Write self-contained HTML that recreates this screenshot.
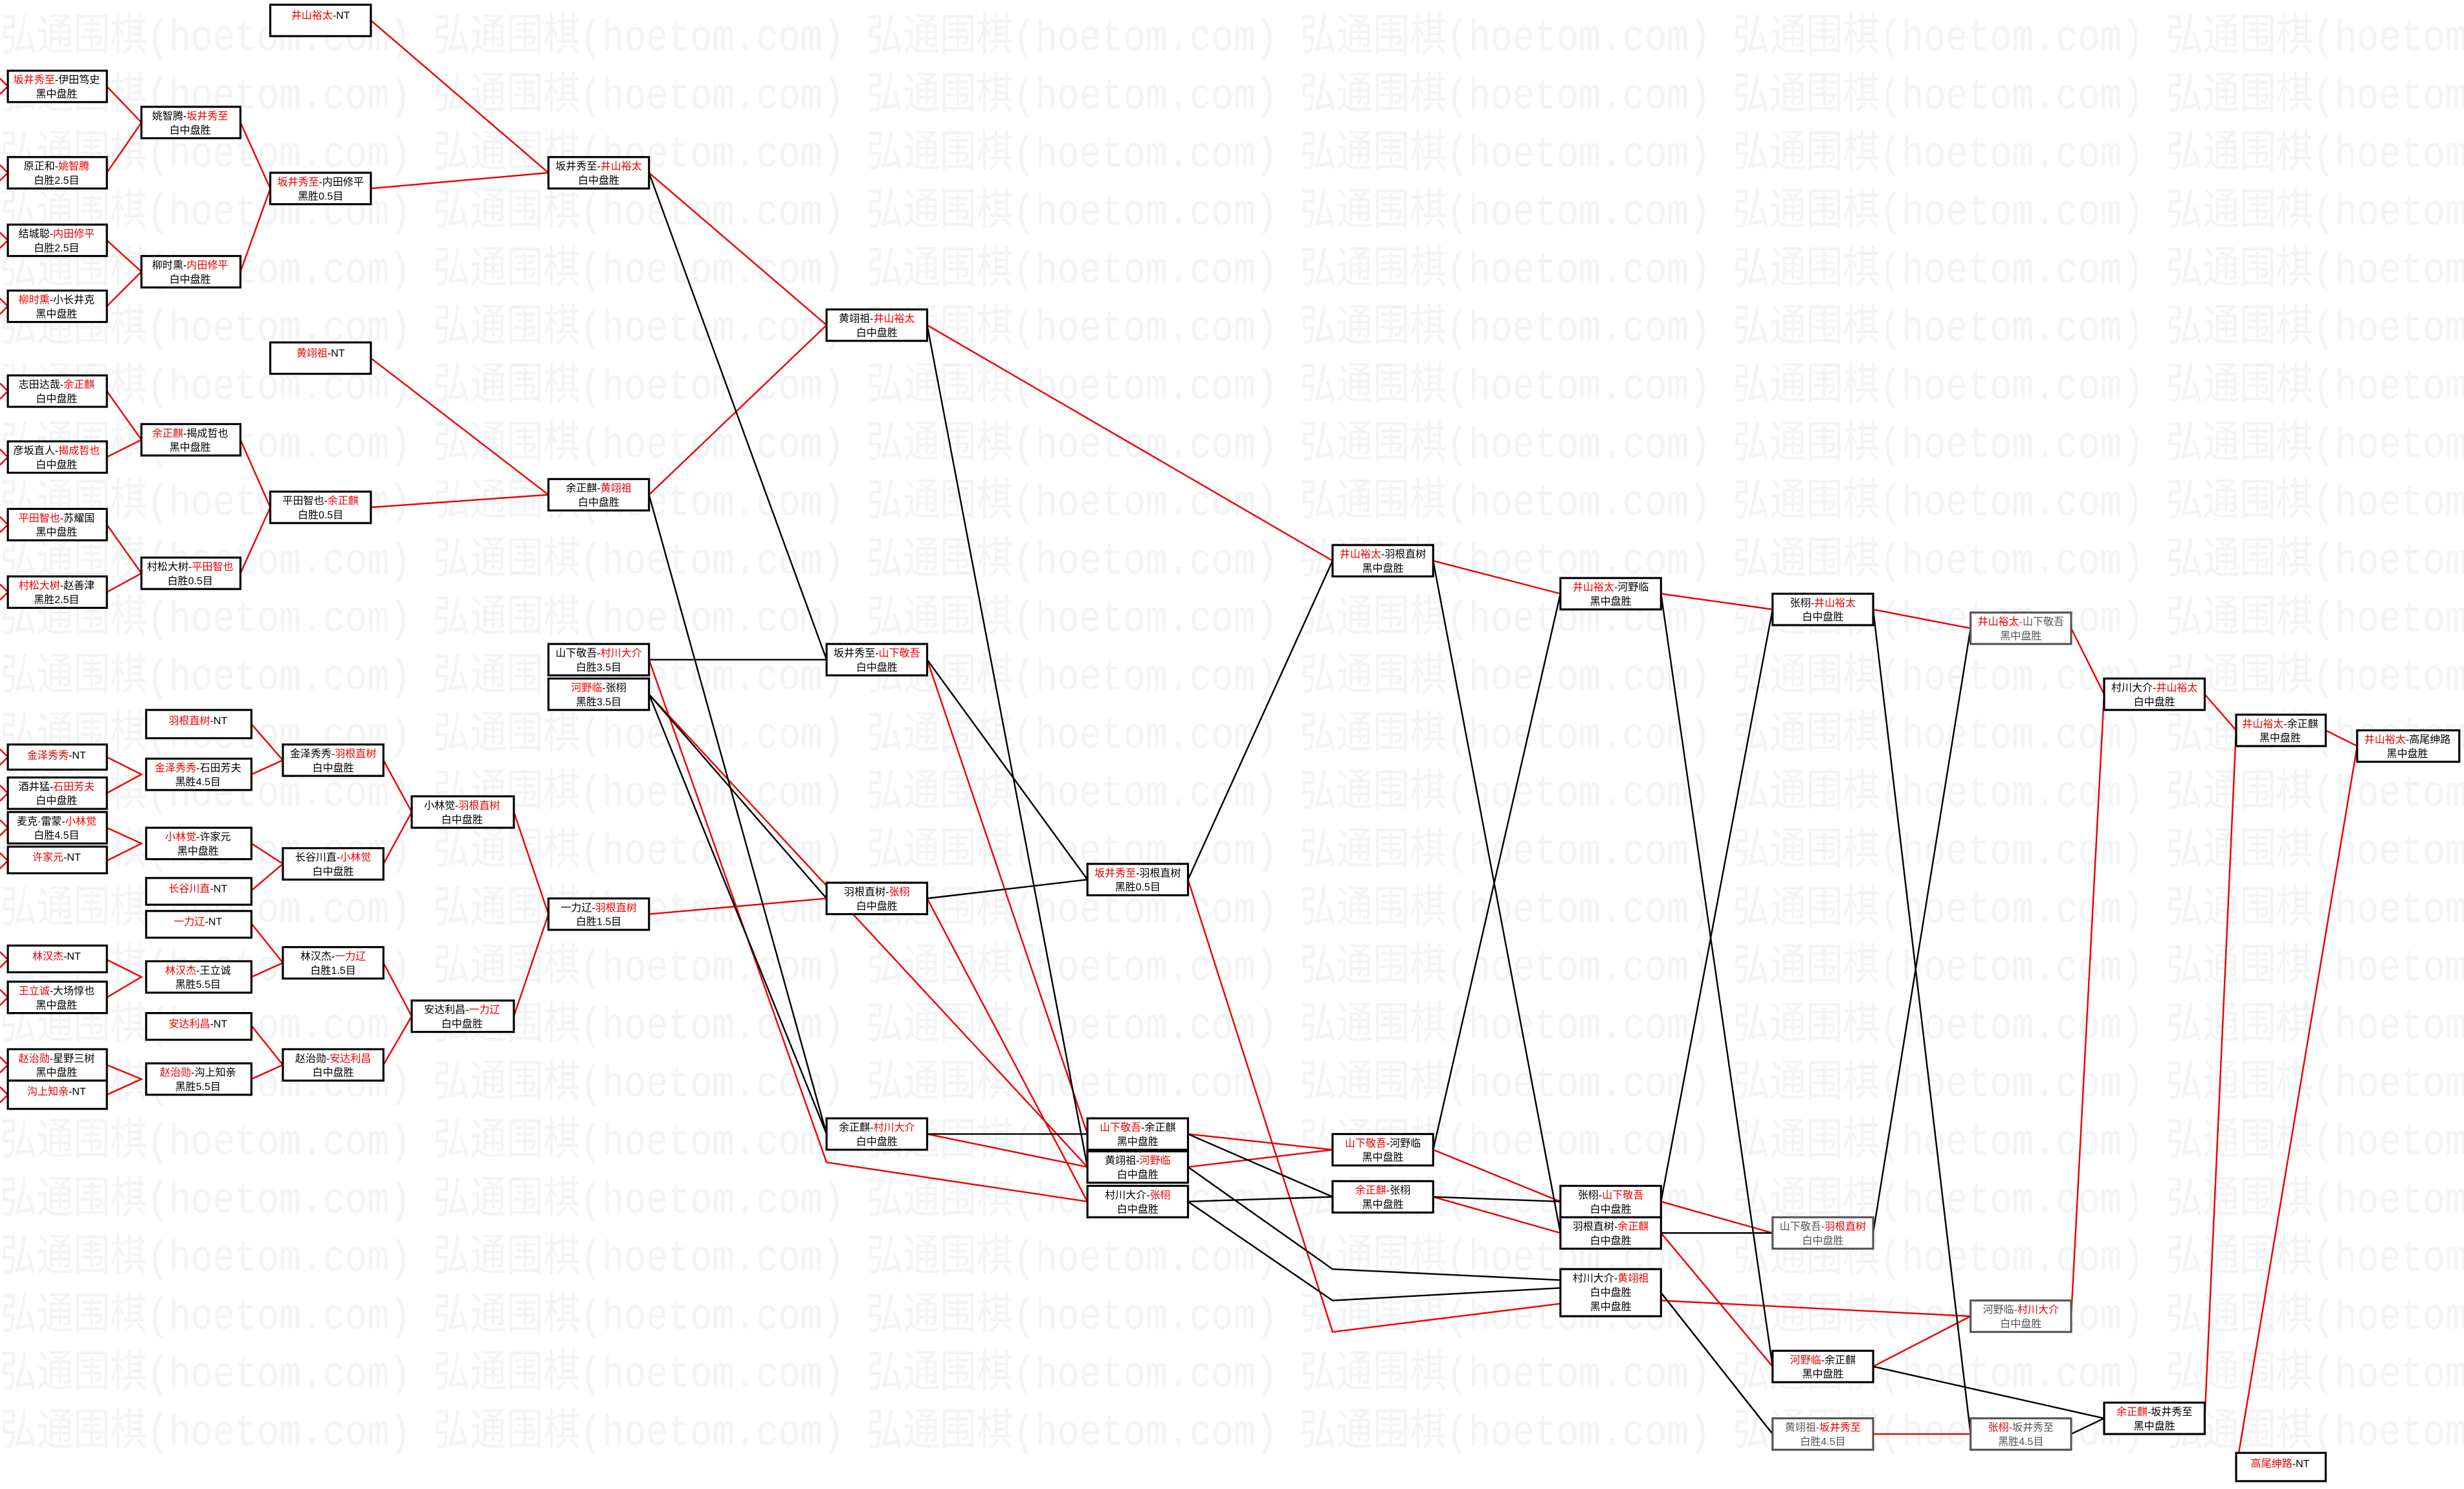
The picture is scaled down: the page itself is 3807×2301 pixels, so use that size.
<!DOCTYPE html>
<html><head><meta charset="utf-8"><style>
html,body{margin:0;padding:0;background:#fff}
svg{display:block}
text{font-family:"Liberation Sans","Noto Sans CJK SC",sans-serif;font-size:6.6px;text-anchor:middle;fill:#000}
.r{fill:#e00}
.wm text{font-family:"Liberation Mono","Noto Sans CJK SC",monospace;font-size:28px;fill:#f3f4f5;text-anchor:start}
rect{fill:#fff;stroke:#000;stroke-width:1.3}
.R{stroke:#e00;stroke-width:1;fill:none}
.B{stroke:#000;stroke-width:1;fill:none}
</style></head><body>
<svg width="3807" height="2301" viewBox="0 0 1568 948" preserveAspectRatio="none" xmlns="http://www.w3.org/2000/svg">
<g class="wm">
<text x="0" y="32" textLength="1640" lengthAdjust="spacingAndGlyphs">弘通围棋(hoetom.com) 弘通围棋(hoetom.com) 弘通围棋(hoetom.com) 弘通围棋(hoetom.com) 弘通围棋(hoetom.com) 弘通围棋(hoetom.com)</text>
<text x="0" y="69" textLength="1640" lengthAdjust="spacingAndGlyphs">弘通围棋(hoetom.com) 弘通围棋(hoetom.com) 弘通围棋(hoetom.com) 弘通围棋(hoetom.com) 弘通围棋(hoetom.com) 弘通围棋(hoetom.com)</text>
<text x="0" y="106" textLength="1640" lengthAdjust="spacingAndGlyphs">弘通围棋(hoetom.com) 弘通围棋(hoetom.com) 弘通围棋(hoetom.com) 弘通围棋(hoetom.com) 弘通围棋(hoetom.com) 弘通围棋(hoetom.com)</text>
<text x="0" y="143" textLength="1640" lengthAdjust="spacingAndGlyphs">弘通围棋(hoetom.com) 弘通围棋(hoetom.com) 弘通围棋(hoetom.com) 弘通围棋(hoetom.com) 弘通围棋(hoetom.com) 弘通围棋(hoetom.com)</text>
<text x="0" y="180" textLength="1640" lengthAdjust="spacingAndGlyphs">弘通围棋(hoetom.com) 弘通围棋(hoetom.com) 弘通围棋(hoetom.com) 弘通围棋(hoetom.com) 弘通围棋(hoetom.com) 弘通围棋(hoetom.com)</text>
<text x="0" y="217" textLength="1640" lengthAdjust="spacingAndGlyphs">弘通围棋(hoetom.com) 弘通围棋(hoetom.com) 弘通围棋(hoetom.com) 弘通围棋(hoetom.com) 弘通围棋(hoetom.com) 弘通围棋(hoetom.com)</text>
<text x="0" y="254" textLength="1640" lengthAdjust="spacingAndGlyphs">弘通围棋(hoetom.com) 弘通围棋(hoetom.com) 弘通围棋(hoetom.com) 弘通围棋(hoetom.com) 弘通围棋(hoetom.com) 弘通围棋(hoetom.com)</text>
<text x="0" y="291" textLength="1640" lengthAdjust="spacingAndGlyphs">弘通围棋(hoetom.com) 弘通围棋(hoetom.com) 弘通围棋(hoetom.com) 弘通围棋(hoetom.com) 弘通围棋(hoetom.com) 弘通围棋(hoetom.com)</text>
<text x="0" y="328" textLength="1640" lengthAdjust="spacingAndGlyphs">弘通围棋(hoetom.com) 弘通围棋(hoetom.com) 弘通围棋(hoetom.com) 弘通围棋(hoetom.com) 弘通围棋(hoetom.com) 弘通围棋(hoetom.com)</text>
<text x="0" y="365" textLength="1640" lengthAdjust="spacingAndGlyphs">弘通围棋(hoetom.com) 弘通围棋(hoetom.com) 弘通围棋(hoetom.com) 弘通围棋(hoetom.com) 弘通围棋(hoetom.com) 弘通围棋(hoetom.com)</text>
<text x="0" y="402" textLength="1640" lengthAdjust="spacingAndGlyphs">弘通围棋(hoetom.com) 弘通围棋(hoetom.com) 弘通围棋(hoetom.com) 弘通围棋(hoetom.com) 弘通围棋(hoetom.com) 弘通围棋(hoetom.com)</text>
<text x="0" y="439" textLength="1640" lengthAdjust="spacingAndGlyphs">弘通围棋(hoetom.com) 弘通围棋(hoetom.com) 弘通围棋(hoetom.com) 弘通围棋(hoetom.com) 弘通围棋(hoetom.com) 弘通围棋(hoetom.com)</text>
<text x="0" y="476" textLength="1640" lengthAdjust="spacingAndGlyphs">弘通围棋(hoetom.com) 弘通围棋(hoetom.com) 弘通围棋(hoetom.com) 弘通围棋(hoetom.com) 弘通围棋(hoetom.com) 弘通围棋(hoetom.com)</text>
<text x="0" y="513" textLength="1640" lengthAdjust="spacingAndGlyphs">弘通围棋(hoetom.com) 弘通围棋(hoetom.com) 弘通围棋(hoetom.com) 弘通围棋(hoetom.com) 弘通围棋(hoetom.com) 弘通围棋(hoetom.com)</text>
<text x="0" y="550" textLength="1640" lengthAdjust="spacingAndGlyphs">弘通围棋(hoetom.com) 弘通围棋(hoetom.com) 弘通围棋(hoetom.com) 弘通围棋(hoetom.com) 弘通围棋(hoetom.com) 弘通围棋(hoetom.com)</text>
<text x="0" y="587" textLength="1640" lengthAdjust="spacingAndGlyphs">弘通围棋(hoetom.com) 弘通围棋(hoetom.com) 弘通围棋(hoetom.com) 弘通围棋(hoetom.com) 弘通围棋(hoetom.com) 弘通围棋(hoetom.com)</text>
<text x="0" y="624" textLength="1640" lengthAdjust="spacingAndGlyphs">弘通围棋(hoetom.com) 弘通围棋(hoetom.com) 弘通围棋(hoetom.com) 弘通围棋(hoetom.com) 弘通围棋(hoetom.com) 弘通围棋(hoetom.com)</text>
<text x="0" y="661" textLength="1640" lengthAdjust="spacingAndGlyphs">弘通围棋(hoetom.com) 弘通围棋(hoetom.com) 弘通围棋(hoetom.com) 弘通围棋(hoetom.com) 弘通围棋(hoetom.com) 弘通围棋(hoetom.com)</text>
<text x="0" y="698" textLength="1640" lengthAdjust="spacingAndGlyphs">弘通围棋(hoetom.com) 弘通围棋(hoetom.com) 弘通围棋(hoetom.com) 弘通围棋(hoetom.com) 弘通围棋(hoetom.com) 弘通围棋(hoetom.com)</text>
<text x="0" y="735" textLength="1640" lengthAdjust="spacingAndGlyphs">弘通围棋(hoetom.com) 弘通围棋(hoetom.com) 弘通围棋(hoetom.com) 弘通围棋(hoetom.com) 弘通围棋(hoetom.com) 弘通围棋(hoetom.com)</text>
<text x="0" y="772" textLength="1640" lengthAdjust="spacingAndGlyphs">弘通围棋(hoetom.com) 弘通围棋(hoetom.com) 弘通围棋(hoetom.com) 弘通围棋(hoetom.com) 弘通围棋(hoetom.com) 弘通围棋(hoetom.com)</text>
<text x="0" y="809" textLength="1640" lengthAdjust="spacingAndGlyphs">弘通围棋(hoetom.com) 弘通围棋(hoetom.com) 弘通围棋(hoetom.com) 弘通围棋(hoetom.com) 弘通围棋(hoetom.com) 弘通围棋(hoetom.com)</text>
<text x="0" y="846" textLength="1640" lengthAdjust="spacingAndGlyphs">弘通围棋(hoetom.com) 弘通围棋(hoetom.com) 弘通围棋(hoetom.com) 弘通围棋(hoetom.com) 弘通围棋(hoetom.com) 弘通围棋(hoetom.com)</text>
<text x="0" y="883" textLength="1640" lengthAdjust="spacingAndGlyphs">弘通围棋(hoetom.com) 弘通围棋(hoetom.com) 弘通围棋(hoetom.com) 弘通围棋(hoetom.com) 弘通围棋(hoetom.com) 弘通围棋(hoetom.com)</text>
<text x="0" y="920" textLength="1640" lengthAdjust="spacingAndGlyphs">弘通围棋(hoetom.com) 弘通围棋(hoetom.com) 弘通围棋(hoetom.com) 弘通围棋(hoetom.com) 弘通围棋(hoetom.com) 弘通围棋(hoetom.com)</text>
</g>
<!-- lines -->
<g class="R">
<path d="M68,55 L90,78 L68,110"/><path d="M68,153 L90,173 L68,195"/>
<path d="M68,249 L90,280 L68,291"/><path d="M68,334 L90,365 L68,377"/>
<path d="M153,78 L172,120 L153,173"/><path d="M153,280 L172,323 L153,365"/>
<path d="M236,13 L349,110 M236,120 L349,110"/><path d="M236,228 L349,315 M236,323 L349,315"/>
<path d="M413,110 L526,207 M413,315 L526,207"/>
<path d="M68,482 L90,493 L68,505"/><path d="M68,527 L90,537 L68,548"/>
<path d="M68,611 L90,622 L68,635"/><path d="M68,678 L90,687 L68,697"/>
<path d="M160,461 L180,484 L160,493"/><path d="M160,537 L180,550 L160,567"/>
<path d="M160,588 L180,613 L160,622"/><path d="M160,653 L180,678 L160,687"/>
<path d="M244,484 L262,517 L244,550"/><path d="M244,613 L262,647 L244,678"/>
<path d="M327,517 L349,582 L327,647"/><path d="M413,582 L526,572"/>
<path d="M590,207 L848,357"/><path d="M413,420 L526,740 L692,765"/><path d="M413,442 L692,743"/>
<path d="M590,420 L692,722"/><path d="M590,572 L692,765"/><path d="M590,722 L692,743"/>
<path d="M756,560 L848,848 L993,830"/>
<path d="M756,722 L848,732"/><path d="M756,743 L848,732"/>
<path d="M912,357 L993,378"/><path d="M912,732 L993,765"/><path d="M912,762 L993,785"/>
<path d="M1057,378 L1128,388"/><path d="M1057,765 L1128,785"/><path d="M1057,785 L1128,870"/>
<path d="M1057,823 L1128,913"/><path d="M1057,828 L1254,838"/>
<path d="M1192,388 L1254,400"/><path d="M1192,870 L1254,838"/><path d="M1192,913 L1254,913"/>
<path d="M1318,400 L1339,442"/><path d="M1318,838 L1339,442"/>
<path d="M1403,442 L1423,465"/><path d="M1403,903 L1423,465"/>
<path d="M1480,465 L1500,475"/><path d="M1423,935 L1500,475"/>
<path d="M0,50 L5,55 L0,60 M0,105 L5,110 L0,115 M0,148 L5,153 L0,158 M0,190 L5,195 L0,200 M0,244 L5,249 L0,254 M0,286 L5,291 L0,296 M0,329 L5,334 L0,339 M0,372 L5,377 L0,382 M0,477 L5,482 L0,487 M0,500 L5,505 L0,510 M0,522 L5,527 L0,532 M0,543 L5,548 L0,553 M0,606 L5,611 L0,616 M0,630 L5,635 L0,640 M0,673 L5,678 L0,683 M0,692 L5,697 L0,702"/>
</g>
<g class="B">
<path d="M413,110 L526,420"/><path d="M413,315 L526,722"/>
<path d="M413,420 L526,420"/><path d="M413,442 L526,572"/><path d="M413,442 L526,722"/>
<path d="M590,207 L692,743"/><path d="M590,420 L692,560"/><path d="M590,572 L692,560"/>
<path d="M590,722 L692,722"/>
<path d="M756,560 L848,357"/><path d="M756,722 L848,762"/><path d="M756,765 L848,762"/>
<path d="M756,743 L848,808 L993,815"/><path d="M756,765 L848,828 L993,820"/>
<path d="M912,357 L993,785"/><path d="M912,732 L993,378"/><path d="M912,762 L993,765"/>
<path d="M1057,378 L1128,870"/><path d="M1057,765 L1128,388"/><path d="M1057,785 L1128,785"/>
<path d="M1057,823 L1128,913"/>
<path d="M1192,388 L1254,913"/><path d="M1192,785 L1254,400"/><path d="M1192,870 L1339,903"/>
<path d="M1318,913 L1339,903"/>
</g>
<!-- boxes -->
<g>
<rect x="5" y="45" width="63" height="20"/><text x="36" y="53"><tspan class="r">坂井秀至</tspan>-伊田笃史</text><text x="36" y="62">黑中盘胜</text>
<rect x="5" y="100" width="63" height="20"/><text x="36" y="108">原正和-<tspan class="r">姚智腾</tspan></text><text x="36" y="117">白胜2.5目</text>
<rect x="5" y="143" width="63" height="20"/><text x="36" y="151">结城聪-<tspan class="r">内田修平</tspan></text><text x="36" y="160">白胜2.5目</text>
<rect x="5" y="185" width="63" height="20"/><text x="36" y="193"><tspan class="r">柳时熏</tspan>-小长井克</text><text x="36" y="202">黑中盘胜</text>
<rect x="5" y="239" width="63" height="20"/><text x="36" y="247">志田达哉-<tspan class="r">余正麒</tspan></text><text x="36" y="256">白中盘胜</text>
<rect x="5" y="281" width="63" height="20"/><text x="36" y="289">彦坂直人-<tspan class="r">揭成哲也</tspan></text><text x="36" y="298">白中盘胜</text>
<rect x="5" y="324" width="63" height="20"/><text x="36" y="332"><tspan class="r">平田智也</tspan>-苏耀国</text><text x="36" y="341">黑中盘胜</text>
<rect x="5" y="367" width="63" height="20"/><text x="36" y="375"><tspan class="r">村松大树</tspan>-赵善津</text><text x="36" y="384">黑胜2.5目</text>
<rect x="5" y="474" width="63" height="16"/><text x="36" y="483"><tspan class="r">金泽秀秀</tspan>-NT</text>
<rect x="5" y="495" width="63" height="20"/><text x="36" y="503">酒井猛-<tspan class="r">石田芳夫</tspan></text><text x="36" y="512">白中盘胜</text>
<rect x="5" y="517" width="63" height="20"/><text x="36" y="525">麦克·雷蒙-<tspan class="r">小林觉</tspan></text><text x="36" y="534">白胜4.5目</text>
<rect x="5" y="539" width="63" height="17"/><text x="36" y="548"><tspan class="r">许家元</tspan>-NT</text>
<rect x="5" y="602" width="63" height="17"/><text x="36" y="611"><tspan class="r">林汉杰</tspan>-NT</text>
<rect x="5" y="625" width="63" height="20"/><text x="36" y="633"><tspan class="r">王立诚</tspan>-大场惇也</text><text x="36" y="642">黑中盘胜</text>
<rect x="5" y="668" width="63" height="20"/><text x="36" y="676"><tspan class="r">赵治勋</tspan>-星野三树</text><text x="36" y="685">黑中盘胜</text>
<rect x="5" y="688" width="63" height="18"/><text x="36" y="697"><tspan class="r">沟上知亲</tspan>-NT</text>

<rect x="90" y="68" width="63" height="20"/><text x="121" y="76">姚智腾-<tspan class="r">坂井秀至</tspan></text><text x="121" y="85">白中盘胜</text>
<rect x="90" y="163" width="63" height="20"/><text x="121" y="171">柳时熏-<tspan class="r">内田修平</tspan></text><text x="121" y="180">白中盘胜</text>
<rect x="90" y="270" width="63" height="20"/><text x="121" y="278"><tspan class="r">余正麒</tspan>-揭成哲也</text><text x="121" y="287">黑中盘胜</text>
<rect x="90" y="355" width="63" height="20"/><text x="121" y="363">村松大树-<tspan class="r">平田智也</tspan></text><text x="121" y="372">白胜0.5目</text>
<rect x="93" y="452" width="67" height="18"/><text x="126" y="461"><tspan class="r">羽根直树</tspan>-NT</text>
<rect x="93" y="483" width="67" height="20"/><text x="126" y="491"><tspan class="r">金泽秀秀</tspan>-石田芳夫</text><text x="126" y="500">黑胜4.5目</text>
<rect x="93" y="527" width="67" height="20"/><text x="126" y="535"><tspan class="r">小林觉</tspan>-许家元</text><text x="126" y="544">黑中盘胜</text>
<rect x="93" y="559" width="67" height="17"/><text x="126" y="568"><tspan class="r">长谷川直</tspan>-NT</text>
<rect x="93" y="580" width="67" height="17"/><text x="126" y="589"><tspan class="r">一力辽</tspan>-NT</text>
<rect x="93" y="612" width="67" height="20"/><text x="126" y="620"><tspan class="r">林汉杰</tspan>-王立诚</text><text x="126" y="629">黑胜5.5目</text>
<rect x="93" y="645" width="67" height="17"/><text x="126" y="654"><tspan class="r">安达利昌</tspan>-NT</text>
<rect x="93" y="677" width="67" height="20"/><text x="126" y="685"><tspan class="r">赵治勋</tspan>-沟上知亲</text><text x="126" y="694">黑胜5.5目</text>

<rect x="172" y="3" width="64" height="20"/><text x="204" y="12"><tspan class="r">井山裕太</tspan>-NT</text>
<rect x="172" y="110" width="64" height="20"/><text x="204" y="118"><tspan class="r">坂井秀至</tspan>-内田修平</text><text x="204" y="127">黑胜0.5目</text>
<rect x="172" y="218" width="64" height="20"/><text x="204" y="227"><tspan class="r">黄翊祖</tspan>-NT</text>
<rect x="172" y="313" width="64" height="20"/><text x="204" y="321">平田智也-<tspan class="r">余正麒</tspan></text><text x="204" y="330">白胜0.5目</text>
<rect x="180" y="474" width="64" height="20"/><text x="212" y="482">金泽秀秀-<tspan class="r">羽根直树</tspan></text><text x="212" y="491">白中盘胜</text>
<rect x="180" y="540" width="64" height="20"/><text x="212" y="548">长谷川直-<tspan class="r">小林觉</tspan></text><text x="212" y="557">白中盘胜</text>
<rect x="180" y="603" width="64" height="20"/><text x="212" y="611">林汉杰-<tspan class="r">一力辽</tspan></text><text x="212" y="620">白胜1.5目</text>
<rect x="180" y="668" width="64" height="20"/><text x="212" y="676">赵治勋-<tspan class="r">安达利昌</tspan></text><text x="212" y="685">白中盘胜</text>

<rect x="262" y="507" width="65" height="20"/><text x="294" y="515">小林觉-<tspan class="r">羽根直树</tspan></text><text x="294" y="524">白中盘胜</text>
<rect x="262" y="637" width="65" height="20"/><text x="294" y="645">安达利昌-<tspan class="r">一力辽</tspan></text><text x="294" y="654">白中盘胜</text>

<rect x="349" y="100" width="64" height="20"/><text x="381" y="108">坂井秀至-<tspan class="r">井山裕太</tspan></text><text x="381" y="117">白中盘胜</text>
<rect x="349" y="305" width="64" height="20"/><text x="381" y="313">余正麒-<tspan class="r">黄翊祖</tspan></text><text x="381" y="322">白中盘胜</text>
<rect x="349" y="410" width="64" height="20"/><text x="381" y="418">山下敬吾-<tspan class="r">村川大介</tspan></text><text x="381" y="427">白胜3.5目</text>
<rect x="349" y="432" width="64" height="20"/><text x="381" y="440"><tspan class="r">河野临</tspan>-张栩</text><text x="381" y="449">黑胜3.5目</text>
<rect x="349" y="572" width="64" height="20"/><text x="381" y="580">一力辽-<tspan class="r">羽根直树</tspan></text><text x="381" y="589">白胜1.5目</text>

<rect x="526" y="197" width="64" height="20"/><text x="558" y="205">黄翊祖-<tspan class="r">井山裕太</tspan></text><text x="558" y="214">白中盘胜</text>
<rect x="526" y="410" width="64" height="20"/><text x="558" y="418">坂井秀至-<tspan class="r">山下敬吾</tspan></text><text x="558" y="427">白中盘胜</text>
<rect x="526" y="562" width="64" height="20"/><text x="558" y="570">羽根直树-<tspan class="r">张栩</tspan></text><text x="558" y="579">白中盘胜</text>
<rect x="526" y="712" width="64" height="20"/><text x="558" y="720">余正麒-<tspan class="r">村川大介</tspan></text><text x="558" y="729">白中盘胜</text>

<rect x="692" y="550" width="64" height="20"/><text x="724" y="558"><tspan class="r">坂井秀至</tspan>-羽根直树</text><text x="724" y="567">黑胜0.5目</text>
<rect x="692" y="712" width="64" height="20"/><text x="724" y="720"><tspan class="r">山下敬吾</tspan>-余正麒</text><text x="724" y="729">黑中盘胜</text>
<rect x="692" y="733" width="64" height="20"/><text x="724" y="741">黄翊祖-<tspan class="r">河野临</tspan></text><text x="724" y="750">白中盘胜</text>
<rect x="692" y="755" width="64" height="20"/><text x="724" y="763">村川大介-<tspan class="r">张栩</tspan></text><text x="724" y="772">白中盘胜</text>

<rect x="848" y="347" width="64" height="20"/><text x="880" y="355"><tspan class="r">井山裕太</tspan>-羽根直树</text><text x="880" y="364">黑中盘胜</text>
<rect x="848" y="722" width="64" height="20"/><text x="880" y="730"><tspan class="r">山下敬吾</tspan>-河野临</text><text x="880" y="739">黑中盘胜</text>
<rect x="848" y="752" width="64" height="20"/><text x="880" y="760"><tspan class="r">余正麒</tspan>-张栩</text><text x="880" y="769">黑中盘胜</text>

<rect x="993" y="368" width="64" height="20"/><text x="1025" y="376"><tspan class="r">井山裕太</tspan>-河野临</text><text x="1025" y="385">黑中盘胜</text>
<rect x="993" y="755" width="64" height="20"/><text x="1025" y="763">张栩-<tspan class="r">山下敬吾</tspan></text><text x="1025" y="772">白中盘胜</text>
<rect x="993" y="775" width="64" height="20"/><text x="1025" y="783">羽根直树-<tspan class="r">余正麒</tspan></text><text x="1025" y="792">白中盘胜</text>
<rect x="993" y="808" width="64" height="30"/><text x="1025" y="816">村川大介-<tspan class="r">黄翊祖</tspan></text><text x="1025" y="825">白中盘胜</text><text x="1025" y="834">黑中盘胜</text>

<rect x="1128" y="378" width="64" height="20"/><text x="1160" y="386">张栩-<tspan class="r">井山裕太</tspan></text><text x="1160" y="395">白中盘胜</text>
<rect x="1128" y="775" width="64" height="20" style="stroke:#555"/><text x="1160" y="783" style="fill:#555">山下敬吾-<tspan class="r">羽根直树</tspan></text><text x="1160" y="792" style="fill:#555">白中盘胜</text>
<rect x="1128" y="860" width="64" height="20"/><text x="1160" y="868"><tspan class="r">河野临</tspan>-余正麒</text><text x="1160" y="877">黑中盘胜</text>
<rect x="1128" y="903" width="64" height="20" style="stroke:#555"/><text x="1160" y="911" style="fill:#555">黄翊祖-<tspan class="r">坂井秀至</tspan></text><text x="1160" y="920" style="fill:#555">白胜4.5目</text>

<rect x="1254" y="390" width="64" height="20" style="stroke:#555"/><text x="1286" y="398" style="fill:#555"><tspan class="r">井山裕太</tspan>-山下敬吾</text><text x="1286" y="407" style="fill:#555">黑中盘胜</text>
<rect x="1254" y="828" width="64" height="20" style="stroke:#555"/><text x="1286" y="836" style="fill:#555">河野临-<tspan class="r">村川大介</tspan></text><text x="1286" y="845" style="fill:#555">白中盘胜</text>
<rect x="1254" y="903" width="64" height="20" style="stroke:#555"/><text x="1286" y="911" style="fill:#555"><tspan class="r">张栩</tspan>-坂井秀至</text><text x="1286" y="920" style="fill:#555">黑胜4.5目</text>

<rect x="1339" y="432" width="64" height="20"/><text x="1371" y="440">村川大介-<tspan class="r">井山裕太</tspan></text><text x="1371" y="449">白中盘胜</text>
<rect x="1339" y="893" width="64" height="20"/><text x="1371" y="901"><tspan class="r">余正麒</tspan>-坂井秀至</text><text x="1371" y="910">黑中盘胜</text>

<rect x="1423" y="455" width="57" height="20"/><text x="1451" y="463"><tspan class="r">井山裕太</tspan>-余正麒</text><text x="1451" y="472">黑中盘胜</text>
<rect x="1423" y="925" width="57" height="18"/><text x="1451" y="934"><tspan class="r">高尾绅路</tspan>-NT</text>

<rect x="1500" y="465" width="65" height="20"/><text x="1532" y="473"><tspan class="r">井山裕太</tspan>-高尾绅路</text><text x="1532" y="482">黑中盘胜</text>
</g>
</svg>
</body></html>
